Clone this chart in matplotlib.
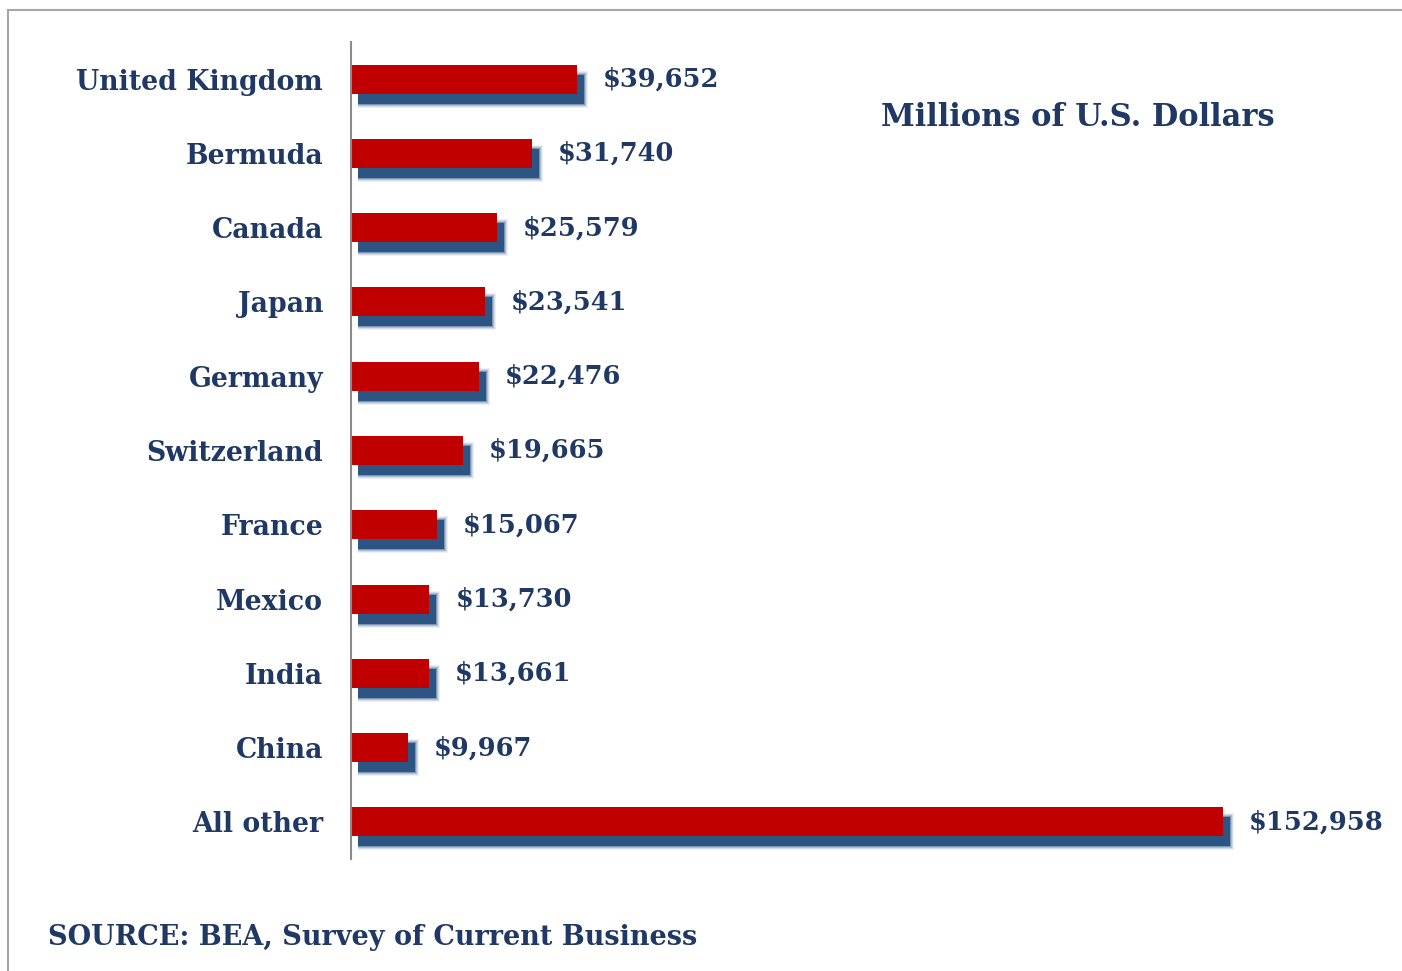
import matplotlib
matplotlib.use("Agg")
import matplotlib.pyplot as plt
from matplotlib.transforms import ScaledTranslation
from matplotlib.lines import Line2D

countries = ["United Kingdom", "Bermuda", "Canada", "Japan", "Germany", "Switzerland",
             "France", "Mexico", "India", "China", "All other"]
values = [39652, 31740, 25579, 23541, 22476, 19665, 15067, 13730, 13661, 9967, 152958]
value_labels = ["$39,652", "$31,740", "$25,579", "$23,541", "$22,476", "$19,665",
                "$15,067", "$13,730", "$13,661", "$9,967", "$152,958"]
title_text = "Millions of U.S. Dollars"
source_text = "SOURCE: BEA, Survey of Current Business"

W, H = 1402, 971
fig = plt.figure(figsize=(W / 100, H / 100), dpi=100)
fig.patch.set_facecolor("white")

ax_left, ax_right, ax_top, ax_bottom = 351, 1402, 42, 859
ax = fig.add_axes([ax_left / W, 1 - ax_bottom / H, (ax_right - ax_left) / W, (ax_bottom - ax_top) / H])
ax.set_facecolor("none")

px_per_unit = (1223 - 351) / 152958
ax.set_xlim(0, (ax_right - ax_left) / px_per_unit)
n = len(countries)
ax.set_ylim(n - 0.5, -0.5)
y = list(range(n))
row_px = (ax_bottom - ax_top) / n
bar_h = 29 / row_px

red = "#C00000"
shadow = "#1F4A7C"
text_col = "#1F3864"
font = "DejaVu Serif"

# blurred shadow
for (grow, a) in [(4, 0.08), (3, 0.12), (2, 0.2), (1, 0.35), (0, 0.85)]:
    tr = ax.transData + ScaledTranslation(7 / 100, -10 / 100, fig.dpi_scale_trans)
    gv = [v + grow / px_per_unit for v in values]
    ax.barh(y, gv, left=-grow / px_per_unit * 0.0, height=bar_h + 2 * grow / row_px,
            color=shadow, alpha=a, transform=tr, zorder=1, linewidth=0)
ax.barh(y, values, height=bar_h, color=red, zorder=2, linewidth=0)

for yi, v, lab in zip(y, values, value_labels):
    ax.annotate(lab, xy=(v, yi), xytext=(26, 0), textcoords="offset pixels",
                ha="left", va="center", fontsize=18.5, fontweight="bold",
                color=text_col, family=font, zorder=3)

ax.set_yticks(y)
ax.set_yticklabels(countries, fontsize=19.3, fontweight="bold", color=text_col, family=font)
ax.tick_params(axis="y", length=0, pad=20)
ax.set_xticks([])
for s in ["top", "right", "bottom"]:
    ax.spines[s].set_visible(False)
ax.spines["left"].set_color("#8C8C8C")
ax.spines["left"].set_linewidth(1.5)

fig.text(1078 / W, 1 - 117 / H, title_text, ha="center", va="center", fontsize=22,
         fontweight="bold", color=text_col, family=font)
fig.text(48 / W, 1 - 937 / H, source_text, ha="left", va="center", fontsize=19.5,
         fontweight="bold", color=text_col, family=font)

# outer frame (top and left edges visible)
fig.add_artist(Line2D([8 / W, 1.0], [1 - 10 / H, 1 - 10 / H], transform=fig.transFigure,
                      color="#A6A6A6", lw=1.5))
fig.add_artist(Line2D([8 / W, 8 / W], [1 - 10 / H, 0], transform=fig.transFigure,
                      color="#A6A6A6", lw=1.5))

fig.savefig("out.png", dpi=100)
